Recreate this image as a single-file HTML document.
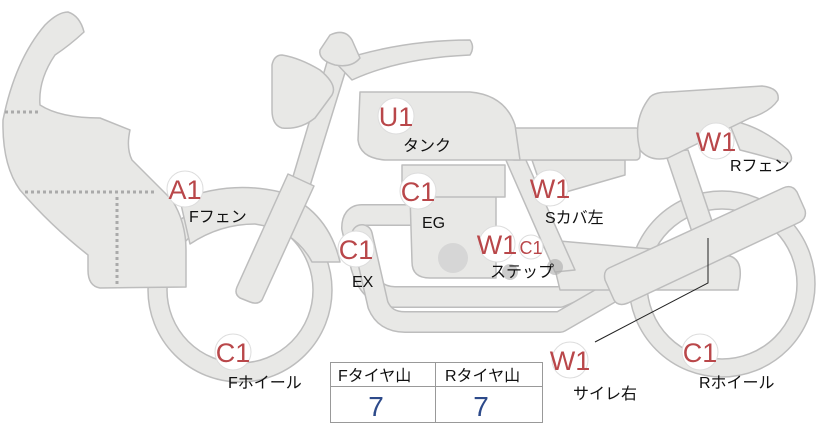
<!DOCTYPE html>
<html><head><meta charset="utf-8"><style>
html,body{margin:0;padding:0;background:#fff;width:822px;height:425px;overflow:hidden}
svg{display:block}
text{font-family:"Liberation Sans","Noto Sans CJK JP",sans-serif}
.b{fill:#fff;stroke:#ddd;stroke-width:1}
.bt{fill:#b9474a;font-size:27px;text-anchor:middle}
.lb{fill:#111;font-size:16px}
</style></head><body>
<svg width="822" height="425" viewBox="0 0 822 425">
<g fill="#e8e8e6" stroke="#bdbdbd" stroke-width="1.5" stroke-linejoin="round">
<circle cx="240" cy="290" r="92"/>
<circle cx="240" cy="290" r="73" fill="#fff"/>
<circle cx="722" cy="284" r="93"/>
<circle cx="722" cy="284" r="75" fill="#fff"/>
<path d="M68,12 Q80,16 84,32 Q70,45 55,55 Q38,80 40,105 Q60,118 100,118 L130,130 Q126,148 132,160 L172,200 Q186,222 186,250 L186,287 L100,288 Q88,286 88,270 L88,255 Q50,225 20,190 Q2,165 3,120 Q15,60 45,25 Q58,12 68,12Z"/>
<path d="M180,200 Q230,180 280,192 Q328,210 340,262 L312,262 Q295,230 255,224 Q220,224 190,244 Z"/>
<path d="M412,215 L362,215 Q352,215 352,228 L360,262 Q368,297 395,297 L560,297 L600,280" fill="none" stroke="#bdbdbd" stroke-width="22" stroke-linecap="round"/>
<path d="M412,215 L362,215 Q352,215 352,228 L360,262 Q368,297 395,297 L560,297 L600,280" fill="none" stroke="#e8e8e6" stroke-width="19" stroke-linecap="round"/>
<path d="M362,235 L378,305 Q385,322 405,322 L560,322 L612,292" fill="none" stroke="#bdbdbd" stroke-width="22" stroke-linecap="round"/>
<path d="M362,235 L378,305 Q385,322 405,322 L560,322 L612,292" fill="none" stroke="#e8e8e6" stroke-width="19" stroke-linecap="round"/>
<path d="M410,195 L496,195 L496,278 L430,278 Q412,278 412,262 Z"/>
<rect x="402" y="165" width="103" height="32"/>
<path d="M548,240 L730,256 Q742,260 740,278 L738,290 L560,290 Z"/>
<path d="M505,158 L525,158 L575,270 L555,272 Z"/>
<path d="M532,160 L625,160 L625,175 L545,198 Z"/>
<rect x="510" y="128" width="130" height="32" rx="4"/>
<path d="M360,92 L470,92 Q505,95 515,125 L520,160 L385,160 Q360,158 358,140 Z"/>
<path d="M665,152 L688,150 L715,230 L693,235 Z"/>
<path d="M728,120 Q760,125 788,150 Q795,160 788,163 Q760,155 740,150 Z"/>
<path d="M650,97 Q655,92 670,92 L762,86 Q780,88 778,100 Q770,112 750,118 L668,158 Q650,162 640,150 Q632,120 650,97Z"/>
<path d="M609,268 L783,188 Q792,184 797,192 L805,210 Q807,218 800,222 L628,303 Q618,307 614,300 L605,280 Q603,271 609,268Z"/>
<!-- fork upper -->
<path d="M333,42 L352,50 L310,186 L292,180 Z"/>
<!-- fork lower -->
<path d="M288,174 L314,186 L262,300 Q258,305 250,302 L240,298 Q234,294 237,287 Z"/>
<path d="M335,62 Q400,40 470,40 Q475,47 470,55 Q400,58 352,80 Z"/>
<path d="M282,55 Q300,58 320,70 Q338,85 332,95 L315,118 Q300,130 282,128 Q272,125 272,110 L272,65 Q274,55 282,55Z"/>
<path d="M330,35 Q345,28 352,40 L360,58 Q352,68 335,65 Q318,60 320,50 Z"/>
</g>
<circle cx="453" cy="258" r="15" fill="#d6d6d6"/>
<circle cx="510" cy="272" r="8" fill="#aaa" opacity=".6"/>
<circle cx="555" cy="267" r="8" fill="#aaa" opacity=".6"/>
<g stroke="#aaa" stroke-width="3" stroke-dasharray="3,3" fill="none">
<line x1="5" y1="112" x2="40" y2="112"/>
<line x1="25" y1="192" x2="155" y2="192"/>
<line x1="117" y1="197" x2="117" y2="285"/>
</g>
<path d="M595,342 L708,283 L708,238" fill="none" stroke="#222" stroke-width="1"/>
<g>
<circle class="b" cx="396" cy="116" r="18"/><text class="bt" x="396" y="126">U1</text>
<circle class="b" cx="185" cy="189" r="18"/><text class="bt" x="185" y="199">A1</text>
<circle class="b" cx="418" cy="191" r="18"/><text class="bt" x="418" y="201">C1</text>
<circle class="b" cx="356" cy="249" r="18"/><text class="bt" x="356" y="259">C1</text>
<circle class="b" cx="550" cy="188" r="18"/><text class="bt" x="550" y="198">W1</text>
<circle class="b" cx="497" cy="244" r="18"/><text class="bt" x="497" y="254">W1</text>
<circle class="b" cx="531" cy="247" r="12"/><text class="bt" x="531" y="254" style="font-size:18px">C1</text>
<circle class="b" cx="716" cy="141" r="18"/><text class="bt" x="716" y="151">W1</text>
<circle class="b" cx="233" cy="352" r="18"/><text class="bt" x="233" y="362">C1</text>
<circle class="b" cx="570" cy="360" r="18"/><text class="bt" x="570" y="370">W1</text>
<circle class="b" cx="700" cy="352" r="18"/><text class="bt" x="700" y="362">C1</text>
</g>
<text class="lb" x="403" y="151">タンク</text>
<text class="lb" x="189" y="222">Fフェン</text>
<text class="lb" x="422" y="228">EG</text>
<text class="lb" x="352" y="287">EX</text>
<text class="lb" x="545" y="223">Sカバ左</text>
<text class="lb" x="490" y="277">ステップ</text>
<text class="lb" x="730" y="171">Rフェン</text>
<text class="lb" x="228" y="388">Fホイール</text>
<text class="lb" x="573" y="399">サイレ右</text>
<text class="lb" x="699" y="388">Rホイール</text>
<g fill="none" stroke="#999" stroke-width="1">
<rect x="330.5" y="362.5" width="212" height="60"/>
<line x1="330" y1="386.5" x2="543" y2="386.5"/>
<line x1="435.5" y1="362" x2="435.5" y2="423"/>
</g>
<text class="lb" x="338" y="381">Fタイヤ山</text>
<text class="lb" x="445" y="381">Rタイヤ山</text>
<text x="376" y="416" style="font-size:28px;fill:#2d4a8a" text-anchor="middle">7</text>
<text x="481" y="416" style="font-size:28px;fill:#2d4a8a" text-anchor="middle">7</text>
</svg>
</body></html>
